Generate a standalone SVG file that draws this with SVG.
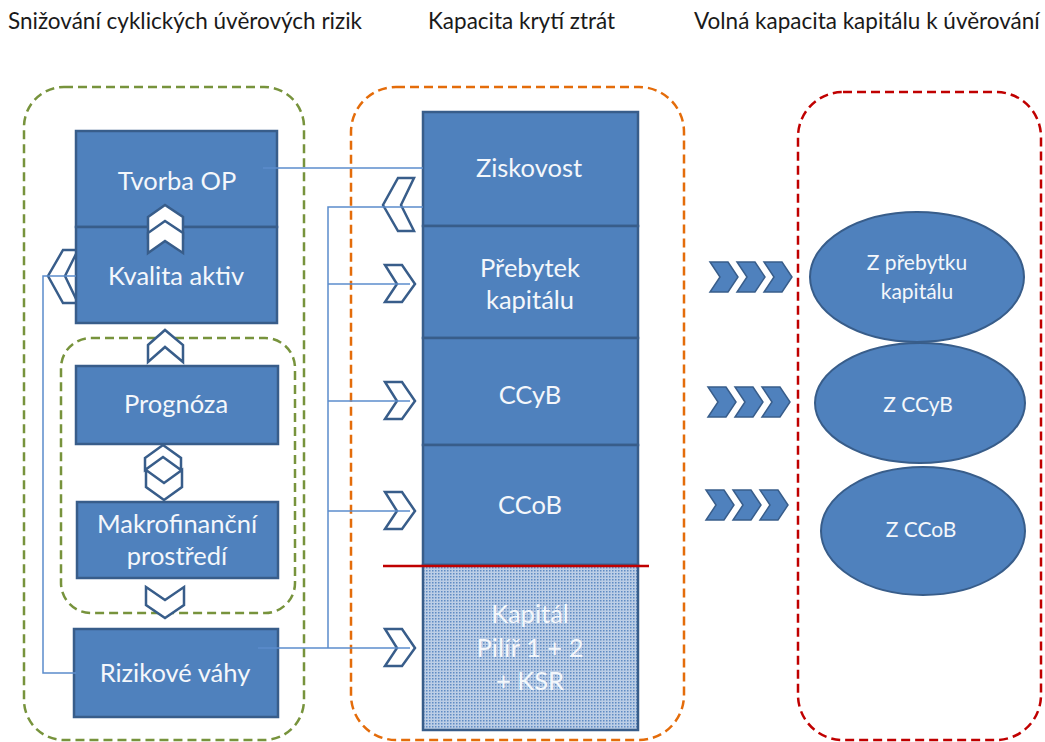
<svg xmlns="http://www.w3.org/2000/svg" width="1045" height="742" viewBox="0 0 1045 742">
<style>
.hdr{font-family:Lato,"Open Sans","Liberation Sans",sans-serif;font-size:22.5px;fill:#1a1a1a}
.bt{font-family:Lato,"Open Sans","Liberation Sans",sans-serif;font-size:25.5px;fill:#f4f7fb;text-anchor:middle}
.et{font-family:Lato,"Open Sans","Liberation Sans",sans-serif;font-size:21px;fill:#f4f7fb;text-anchor:middle}
.box{fill:#4f81bd;stroke:#385d8a;stroke-width:2.5}
.cont{fill:none;stroke-width:2.5;stroke-dasharray:9 5}
.chev{fill:#fff;stroke:#385d8a;stroke-width:2.5;stroke-linejoin:miter}
.chevf{fill:#4f81bd;stroke:#385d8a;stroke-width:1.5}
.conn{fill:none;stroke:#5b8ccc;stroke-width:1.5}
.ell{fill:#4f81bd;stroke:#385d8a;stroke-width:2}
</style>
<defs>
<pattern id="dots" width="3" height="3" patternUnits="userSpaceOnUse">
<rect width="3" height="3" fill="#bccee6"/>
<rect x="0" y="0" width="1.5" height="1.5" fill="#5f8bc3"/>
</pattern>
</defs>

<g id="headers">
<text class="hdr" x="8" y="29">Snižování cyklických úvěrových rizik</text>
<text class="hdr" x="428" y="29">Kapacita krytí ztrát</text>
<text class="hdr" x="694" y="29">Volná kapacita kapitálu k úvěrování</text>
</g>

<g id="containers">
<rect id="cont-green-outer" class="cont" x="24" y="87" width="280" height="653" rx="40" stroke="#77933c"/>
<rect id="cont-green-inner" class="cont" x="61" y="338" width="234" height="275" rx="30" stroke="#77933c"/>
<rect id="cont-orange" class="cont" x="351" y="87" width="333" height="653" rx="45" stroke="#e46c0a"/>
<rect id="cont-red" class="cont" x="798" y="92" width="243" height="648" rx="45" stroke="#c00000"/>
</g>

<g id="node-kvalita-chev">
<polygon class="chev" points="78,250 63,250 48,276 63,303 78,303 65,276"/>
</g>

<g id="node-tvorba">
<rect class="box" x="76" y="131" width="201" height="96"/>
<text class="bt" x="177" y="190">Tvorba OP</text>
</g>
<g id="node-kvalita">
<rect class="box" x="76" y="227" width="201" height="96"/>
<text class="bt" x="176" y="285">Kvalita aktiv</text>
</g>
<g id="node-prognoza">
<rect class="box" x="76" y="366" width="202" height="78"/>
<text class="bt" x="176" y="413">Prognóza</text>
</g>
<g id="node-makro">
<rect class="box" x="77" y="502" width="201" height="76"/>
<text class="bt" x="177" y="533">Makrofinanční</text>
<text class="bt" x="177" y="565">prostředí</text>
</g>
<g id="node-rizikove">
<rect class="box" x="74" y="629" width="204" height="88"/>
<text class="bt" x="175" y="682">Rizikové váhy</text>
</g>

<g id="node-ziskovost">
<rect class="box" x="423" y="112" width="215" height="114"/>
<text class="bt" x="529" y="177">Ziskovost</text>
</g>
<g id="node-prebytek">
<rect class="box" x="423" y="226" width="215" height="112"/>
<text class="bt" x="530" y="277">Přebytek</text>
<text class="bt" x="530" y="309">kapitálu</text>
</g>
<g id="node-ccyb">
<rect class="box" x="423" y="338" width="215" height="107"/>
<text class="bt" x="530" y="404">CCyB</text>
</g>
<g id="node-ccob">
<rect class="box" x="423" y="445" width="215" height="120"/>
<text class="bt" x="530" y="514">CCoB</text>
</g>
<g id="node-kapital">
<rect x="423" y="565" width="215" height="165" fill="url(#dots)" stroke="#385d8a" stroke-width="2.5"/>
<text class="bt" x="530" y="623">Kapitál</text>
<text class="bt" x="530" y="657">Pilíř 1 + 2</text>
<text class="bt" x="530" y="690">+ KSR</text>
</g>
<g id="red-line">
<line x1="383" y1="566" x2="649" y2="566" stroke="#c00000" stroke-width="2.5"/>
</g>

<g id="node-z-prebytku">
<ellipse class="ell" cx="917" cy="277" rx="107" ry="65"/>
<text class="et" x="917" y="270">Z přebytku</text>
<text class="et" x="917" y="299">kapitálu</text>
</g>
<g id="node-z-ccyb">
<ellipse class="ell" cx="920" cy="403" rx="105" ry="60"/>
<text class="et" x="918" y="412">Z CCyB</text>
</g>
<g id="node-z-ccob">
<ellipse class="ell" cx="923" cy="531" rx="102" ry="64"/>
<text class="et" x="921" y="537">Z CCoB</text>
</g>

<g id="chevrons">
<polygon class="chev" points="148,217 165,205 183,217 183,237 165,225 148,237"/>
<polygon class="chev" points="148,233 165,221 183,233 183,253 165,241 148,253"/>
<polygon class="chev" points="148,345 165,330 183,345 183,362 165,347 148,362"/>
<polygon class="chev" points="145,458 163,445 181,458 181,470 163,457 145,470"/>
<polygon class="chev" points="146,470 164,483 182,470 182,487 164,500 146,487"/>
<polygon class="chev" points="146,587 165,600 184,587 184,605 165,618 146,605"/>
<polygon class="chev" points="414,178 398,178 383,205 398,231 414,231 401,205"/>
<polygon class="chev" points="385,265 402,265 415,284 402,302 385,302 397,284"/>
<polygon class="chev" points="385,382 402,382 415,401 402,419 385,419 397,401"/>
<polygon class="chev" points="385,492 402,492 415,511 402,529 385,529 397,511"/>
<polygon class="chev" points="385,629 402,629 415,648 402,666 385,666 397,648"/>
</g>

<g id="triple-chevrons">
<polygon class="chevf" points="710,262 728,262 738,277 728,292 710,292 720,277"/>
<polygon class="chevf" points="737,262 755,262 765,277 755,292 737,292 747,277"/>
<polygon class="chevf" points="764,262 782,262 792,277 782,292 764,292 774,277"/>
<polygon class="chevf" points="708,387 726,387 736,402 726,417 708,417 718,402"/>
<polygon class="chevf" points="735,387 753,387 763,402 753,417 735,417 745,402"/>
<polygon class="chevf" points="762,387 780,387 790,402 780,417 762,417 772,402"/>
<polygon class="chevf" points="706,490 724,490 734,505 724,520 706,520 716,505"/>
<polygon class="chevf" points="733,490 751,490 761,505 751,520 733,520 743,505"/>
<polygon class="chevf" points="760,490 778,490 788,505 778,520 760,520 770,505"/>
</g>

<g id="connectors">
<path class="conn" d="M263 168 H423"/>
<path class="conn" d="M423 207 H328 V648"/>
<path class="conn" d="M328 284 H410"/>
<path class="conn" d="M328 401 H410"/>
<path class="conn" d="M328 511 H410"/>
<path class="conn" d="M258 648 H410"/>
<path class="conn" d="M76 673 H43 V276 H76"/>
</g>
</svg>
